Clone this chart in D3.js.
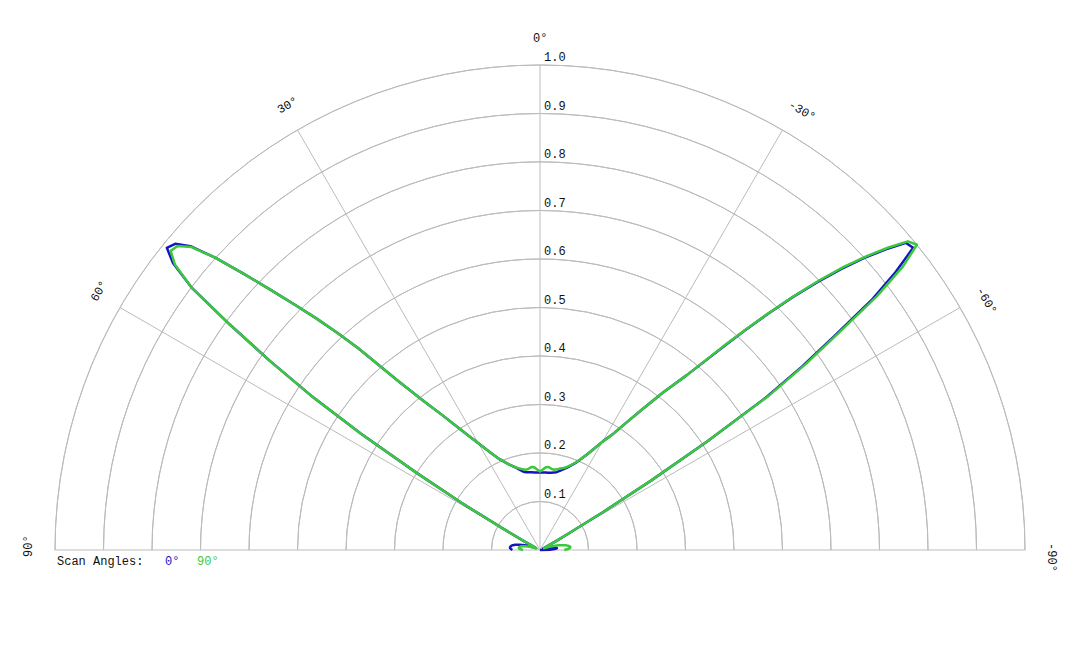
<!DOCTYPE html>
<html>
<head>
<meta charset="utf-8">
<script src="https://cdn.jsdelivr.net/npm/d3@7"></script>
<style>
  body { margin: 0; background: #fff; }
  text { font-family: "Liberation Mono", "DejaVu Sans Mono", monospace; font-size: 12px; fill: #111; }
</style>
</head>
<body>
<div class="chart"></div>
<script>
// polar angles in degrees (positive = left of 0°)
var angles = [-90,-88,-86,-84,-82,-80,-78,-76,-74,-72,-70,-68,-66,-64,-62,
  -61,-60,-59,-58,-57,-56,-55,-54,-53,-52,-51,-50,-49,-48,-47,-46,-45,-44,-43,-42,
  -40,-38,-36,-34,-32,-30,-28,-26,-24,-22,-20,-18,-16,-14,-12,-10,-8,-6,-4,-2,0,
  2,4,6,8,10,12,14,16,18,20,22,24,26,28,30,32,34,36,38,40,
  42,43,44,45,46,47,48,49,50,51,52,53,54,55,56,57,58,59,60,61,
  62,64,66,68,70,72,74,76,78,80,82,84,86,88,90];

// scan angle 0°
var scan0 = [0.0,0.02,0.03,0.035,0.033,0.028,0.022,0.017,0.013,0.01,0.008,0.007,0.007,0.009,0.02,
  0.04,0.07,0.15,0.27,0.41,0.56,0.66,0.75,0.855,0.93,0.99,0.985,0.945,0.9,0.85,0.795,0.738,0.678,0.618,0.562,
  0.47,0.412,0.358,0.315,0.28,0.258,0.236,0.218,0.204,0.193,0.185,0.178,0.173,0.168,0.164,0.162,0.161,0.16,0.16,0.16,0.16,
  0.16,0.16,0.161,0.162,0.163,0.165,0.17,0.176,0.182,0.188,0.196,0.205,0.218,0.234,0.254,0.278,0.308,0.345,0.39,0.455,
  0.56,0.612,0.664,0.716,0.772,0.835,0.9,0.955,0.982,0.99,0.96,0.9,0.79,0.68,0.57,0.44,0.3,0.19,0.09,0.04,
  0.02,0.01,0.01,0.015,0.022,0.03,0.038,0.045,0.052,0.057,0.06,0.062,0.062,0.06,0.057];

// scan angle 90°
var scan90 = [0.05,0.058,0.062,0.063,0.06,0.055,0.048,0.04,0.032,0.024,0.017,0.012,0.009,0.01,0.02,
  0.04,0.07,0.15,0.27,0.41,0.57,0.67,0.76,0.87,0.95,1.0,0.99,0.95,0.905,0.855,0.8,0.74,0.68,0.62,0.565,
  0.47,0.412,0.358,0.315,0.28,0.258,0.236,0.218,0.204,0.194,0.186,0.18,0.176,0.173,0.17,0.168,0.169,0.172,0.171,0.166,0.162,
  0.166,0.171,0.172,0.169,0.168,0.17,0.173,0.177,0.182,0.188,0.196,0.205,0.218,0.234,0.254,0.278,0.308,0.345,0.39,0.455,
  0.56,0.612,0.664,0.716,0.772,0.835,0.9,0.952,0.975,0.98,0.955,0.9,0.79,0.68,0.57,0.44,0.3,0.19,0.09,0.04,
  0.02,0.01,0.008,0.01,0.015,0.02,0.026,0.032,0.037,0.041,0.043,0.044,0.043,0.04,0.035];

var radialTicks = [0.1,0.2,0.3,0.4,0.5,0.6,0.7,0.8,0.9,1.0];
var spokeAngles = [-90,-60,-30,0,30,60,90];
var seriesNames = ["0°", "90°"];
var seriesColors = ["#1414c0", "#3cc83c"];

var width = 1080, height = 648,
    cx = 540, cy = 550,
    outerRadius = 485;

var r = d3.scaleLinear().domain([0, 1]).range([0, outerRadius]);
var rad = function(a) { return -a * Math.PI / 180; };

var svg = d3.select(".chart")
    .append("svg")
    .attr("width", width)
    .attr("height", height);

var g = svg.append("g")
    .attr("transform", `translate(${cx},${cy})`);

// grid rings (upper half only)
var ring = d3.arc()
    .innerRadius(d => r(d))
    .outerRadius(d => r(d))
    .startAngle(-Math.PI / 2)
    .endAngle(Math.PI / 2);

g.selectAll(".ring")
    .data(radialTicks)
    .enter().append("path")
    .attr("class", "ring")
    .attr("d", ring)
    .attr("fill", "none")
    .attr("stroke", "#bbb")
    .attr("stroke-width", 1);

// spokes
g.selectAll(".spoke")
    .data(spokeAngles)
    .enter().append("line")
    .attr("class", "spoke")
    .attr("x1", 0).attr("y1", 0)
    .attr("x2", d => r(1) * Math.sin(rad(d)))
    .attr("y2", d => -r(1) * Math.cos(rad(d)))
    .attr("stroke", "#bbb")
    .attr("stroke-width", 1);

// radial tick labels
g.selectAll(".rlabel")
    .data(radialTicks)
    .enter().append("text")
    .attr("class", "rlabel")
    .attr("x", 4)
    .attr("y", d => -r(d) - 4)
    .text(d => d.toFixed(1));

// angle labels
var labelRadius = 512;
g.selectAll(".alabel")
    .data(spokeAngles)
    .enter().append("text")
    .attr("class", "alabel")
    .attr("transform", function(d) {
        var a = rad(d);
        return `translate(${labelRadius * Math.sin(a)},${-labelRadius * Math.cos(a)}) rotate(${-d})`;
    })
    .attr("dx", -7)
    .attr("dy", "0.35em")
    .attr("text-anchor", "start")
    .text(d => d + "°");

// curves
var line = d3.lineRadial()
    .angle(d => rad(d[0]))
    .radius(d => r(d[1]));

[scan0, scan90].forEach(function(vals, i) {
    g.append("path")
        .datum(angles.map((a, j) => [a, vals[j]]))
        .attr("d", line)
        .attr("fill", "none")
        .attr("stroke", seriesColors[i])
        .attr("stroke-width", 2.5)
        .attr("stroke-linejoin", "round");
});

// legend
var legend = svg.append("g")
    .attr("transform", `translate(57,565)`);

legend.append("text")
    .attr("x", 0)
    .text("Scan Angles:");

var legendX = [108, 140];
legend.selectAll(".item")
    .data(seriesNames)
    .enter().append("text")
    .attr("class", "item")
    .attr("x", (d, i) => legendX[i])
    .style("fill", (d, i) => seriesColors[i])
    .text(d => d);
</script>
</body>
</html>
